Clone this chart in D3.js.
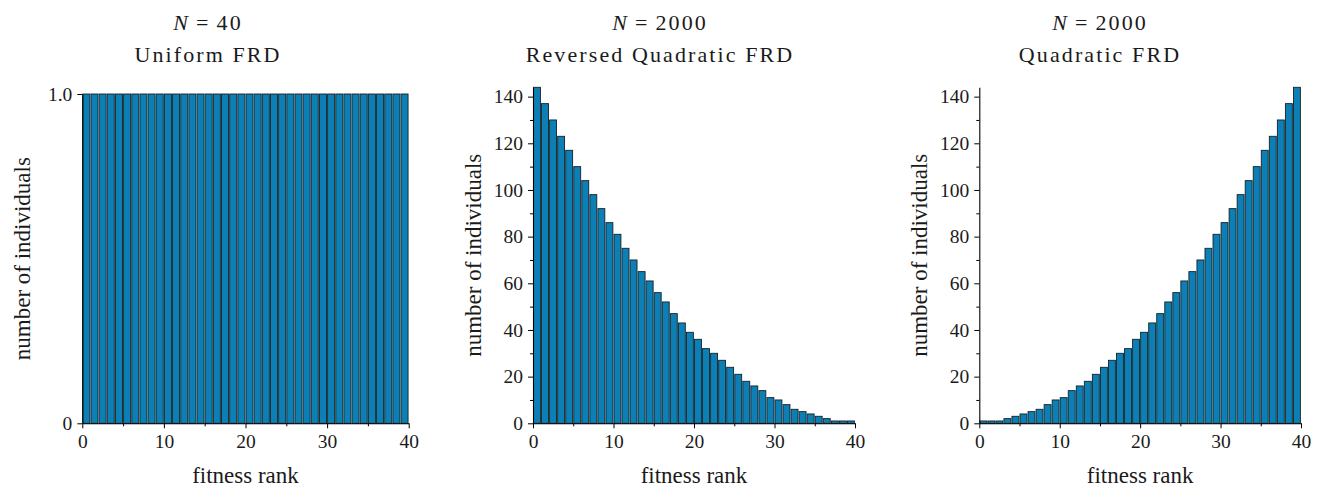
<!DOCTYPE html>
<html>
<head>
<meta charset="utf-8">
<script src="https://cdn.jsdelivr.net/npm/d3@7"></script>
<style>
  html, body { margin: 0; padding: 0; background: #fff; }
  svg { display: block; }
  .tick text { font-family: "Liberation Serif", "Times New Roman", serif; font-size: 19.5px; fill: #1a1a1a; }
  .title { font-family: "Liberation Serif", serif; font-size: 22px; letter-spacing: 2.1px; fill: #1a1a1a; }
  .axis-label { font-family: "Liberation Serif", serif; font-size: 23px; fill: #1a1a1a; }
</style>
</head>
<body>
<svg id="chart" width="1320" height="489"></svg>
<script>
// Fitness ranks 0..39 (bars placed on [rank, rank+1))
const ranks = d3.range(40);

// Individuals per fitness rank for each population
const uniformCounts = [1, 1, 1, 1, 1, 1, 1, 1, 1, 1,
                       1, 1, 1, 1, 1, 1, 1, 1, 1, 1,
                       1, 1, 1, 1, 1, 1, 1, 1, 1, 1,
                       1, 1, 1, 1, 1, 1, 1, 1, 1, 1];
const reversedQuadraticCounts = [144, 137, 130, 123, 117, 110, 104, 98, 92, 86,
                                 81, 75, 70, 65, 61, 56, 52, 47, 43, 39,
                                 36, 32, 30, 27, 24, 21, 18, 16, 14, 11,
                                 10, 8, 6, 5, 4, 3, 2, 1, 1, 1];
const quadraticCounts = [1, 1, 1, 2, 3, 4, 5, 6, 8, 10,
                         11, 14, 16, 18, 21, 24, 27, 30, 32, 36,
                         39, 43, 47, 52, 56, 61, 65, 70, 75, 81,
                         86, 92, 98, 104, 110, 117, 123, 130, 137, 144];

// Tick values / labels
const xTicks = [0, 10, 20, 30, 40];
const xMinorTicks = [5, 15, 25, 35];
const uniformYTicks = [0, 1];
const uniformYTickLabels = ["0", "1.0"];
const countYTicks = [0, 20, 40, 60, 80, 100, 120, 140];
const countYMinorTicks = [10, 30, 50, 70, 90, 110, 130];

const panelSizes = ["40", "2000", "2000"];
const panelNames = ["Uniform FRD", "Reversed Quadratic FRD", "Quadratic FRD"];
const xLabel = "fitness rank";
const yLabel = "number of individuals";

const svg = d3.select("#chart");

const panels = [
  { values: uniformCounts, yMax: 1, yTicks: uniformYTicks, yLabels: uniformYTickLabels, yMinor: [],
    x0: 82.3, x1: 408.7, yTop: 94, titleX: 208 },
  { values: reversedQuadraticCounts, yMax: 144, yTicks: countYTicks, yLabels: countYTicks.map(String), yMinor: countYMinorTicks,
    x0: 533, x1: 855, yTop: 87.3, titleX: 660 },
  { values: quadraticCounts, yMax: 144, yTicks: countYTicks, yLabels: countYTicks.map(String), yMinor: countYMinorTicks,
    x0: 979.3, x1: 1301, yTop: 87.3, titleX: 1100 }
];

const yBottom = 423.3;
const barFrac = 0.86;

panels.forEach((p, i) => {
  const x = d3.scaleLinear().domain([0, 40]).range([p.x0, p.x1]);
  const y = d3.scaleLinear().domain([0, p.yMax]).range([yBottom, p.yTop]);
  const g = svg.append("g");

  // bars
  g.append("g").selectAll("rect")
    .data(ranks)
    .join("rect")
    .attr("x", d => x(d) + 0.5)
    .attr("width", d => x(d + barFrac) - x(d))
    .attr("y", d => y(p.values[d]))
    .attr("height", d => y(0) - y(p.values[d]))
    .attr("fill", "#0c7fb4")
    .attr("stroke", "#13222b")
    .attr("stroke-width", 0.9);

  // x axis
  const xAxis = d3.axisBottom(x).tickValues(xTicks).tickFormat(d3.format("d"))
    .tickSizeInner(5).tickSizeOuter(0).tickPadding(6);
  const gx = g.append("g").attr("transform", `translate(0,${yBottom})`).call(xAxis);
  gx.select(".domain").attr("stroke", "#000").attr("stroke-width", 1.1);
  gx.selectAll(".tick line").attr("stroke", "#000").attr("stroke-width", 1);
  const xMinor = d3.axisBottom(x).tickValues(xMinorTicks).tickFormat("").tickSizeInner(3).tickSizeOuter(0);
  const gxm = g.append("g").attr("transform", `translate(0,${yBottom})`).call(xMinor);
  gxm.select(".domain").remove();
  gxm.selectAll(".tick line").attr("stroke", "#000");

  // y axis
  const yAxis = d3.axisLeft(y).tickValues(p.yTicks).tickFormat((d, k) => p.yLabels[k])
    .tickSizeInner(5).tickSizeOuter(0).tickPadding(5);
  const gy = g.append("g").attr("transform", `translate(${p.x0},0)`).call(yAxis);
  gy.select(".domain").attr("stroke", "#000").attr("stroke-width", 1.1);
  gy.selectAll(".tick line").attr("stroke", "#000").attr("stroke-width", 1);
  if (p.yMinor.length) {
    const yMinor = d3.axisLeft(y).tickValues(p.yMinor).tickFormat("").tickSizeInner(3).tickSizeOuter(0);
    const gym = g.append("g").attr("transform", `translate(${p.x0},0)`).call(yMinor);
    gym.select(".domain").remove();
    gym.selectAll(".tick line").attr("stroke", "#000");
  }

  // axis labels
  g.append("text").attr("class", "axis-label")
    .attr("x", (p.x0 + p.x1) / 2).attr("y", 483)
    .attr("text-anchor", "middle").text(xLabel);
  g.append("text").attr("class", "axis-label")
    .attr("transform", `translate(${p.x0 - 52},${(yBottom + p.yTop) / 2}) rotate(-90)`)
    .attr("text-anchor", "middle").text(yLabel);

  // two-line title
  const t1 = g.append("text").attr("class", "title")
    .attr("x", p.titleX).attr("y", 30).attr("text-anchor", "middle");
  t1.append("tspan").attr("font-style", "italic").text("N");
  t1.append("tspan").attr("dx", 6).text("=");
  t1.append("tspan").attr("dx", 6).text(panelSizes[i]);
  g.append("text").attr("class", "title")
    .attr("x", p.titleX).attr("y", 62).attr("text-anchor", "middle")
    .text(panelNames[i]);
});
</script>
</body>
</html>
